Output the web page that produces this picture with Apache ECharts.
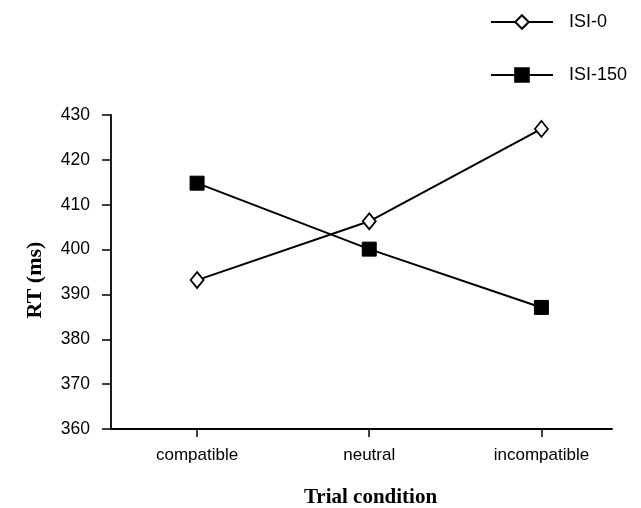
<!DOCTYPE html>
<html>
<head>
<meta charset="utf-8">
<script src="https://cdn.jsdelivr.net/npm/echarts@6/dist/echarts.min.js"></script>
<style>
  html, body { margin: 0; padding: 0; background: #fff; }
  #chart { width: 641px; height: 508px; }
</style>
</head>
<body>
<div id="chart"></div>
<script>
// trial conditions on the x axis
const categories = ['compatible', 'neutral', 'incompatible'];
const yTicks = [360, 370, 380, 390, 400, 410, 420, 430];
// mean RT (ms)
const isi0 = [393.2, 406.3, 426.9];
const isi150 = [414.8, 400.1, 387.1];

const chart = echarts.init(document.getElementById('chart'));

const toPoints = arr => arr.map((v, i) => [i + 1, v]);
const xPos = categories.map((c, i) => i + 1);

const option = {
  animation: false,
  grid: { left: 111, right: 29, top: 115, bottom: 79, outerBoundsMode: 'none' },
  legend: {
    orient: 'vertical',
    right: 9,
    top: 8,
    itemWidth: 62,
    itemHeight: 17,
    itemGap: 35,
    textStyle: { fontFamily: 'Liberation Sans', fontSize: 18, color: '#000', padding: [0, 0, 0, 11] },
    data: ['ISI-0', 'ISI-150']
  },
  xAxis: {
    type: 'value',
    min: 0.5,
    max: 3.41,
    splitLine: { show: false },
    axisLine: { lineStyle: { color: '#000', width: 1.8 } },
    axisTick: { customValues: xPos, length: 8, lineStyle: { color: '#000', width: 1.5 } },
    axisLabel: {
      customValues: xPos,
      formatter: v => categories[Math.round(v) - 1] || '',
      fontFamily: 'Liberation Sans', fontSize: 17, color: '#000', margin: 18
    },
    name: 'Trial condition',
    nameLocation: 'middle',
    nameGap: 58,
    nameTextStyle: {
      fontFamily: 'Liberation Serif', fontWeight: 'bold', fontSize: 21, color: '#000',
      padding: [0, 0, 0, 18]
    }
  },
  yAxis: {
    type: 'value',
    min: 360,
    max: 430,
    interval: 10,
    splitLine: { show: false },
    axisLine: { show: true, lineStyle: { color: '#000', width: 1.8 } },
    axisTick: { show: true, length: 9, lineStyle: { color: '#000', width: 1.5 } },
    axisLabel: {
      formatter: v => yTicks.includes(v) ? String(v) : '',
      fontFamily: 'Liberation Sans', fontSize: 17.5, color: '#000', margin: 21
    },
    name: 'RT (ms)',
    nameLocation: 'middle',
    nameGap: 65,
    nameTextStyle: {
      fontFamily: 'Liberation Serif', fontWeight: 'bold', fontSize: 22, color: '#000',
      padding: [0, 16, 0, 0]
    }
  },
  series: [
    {
      name: 'ISI-0',
      type: 'line',
      data: toPoints(isi0),
      symbol: 'diamond',
      symbolSize: [13, 16],
      lineStyle: { color: '#000', width: 2 },
      itemStyle: { color: '#fff', borderColor: '#000', borderWidth: 1.8 }
    },
    {
      name: 'ISI-150',
      type: 'line',
      data: toPoints(isi150),
      symbol: 'rect',
      symbolSize: 14,
      lineStyle: { color: '#000', width: 2 },
      itemStyle: { color: '#000', borderColor: '#000', borderWidth: 1 }
    }
  ]
};

chart.setOption(option);
</script>
</body>
</html>
